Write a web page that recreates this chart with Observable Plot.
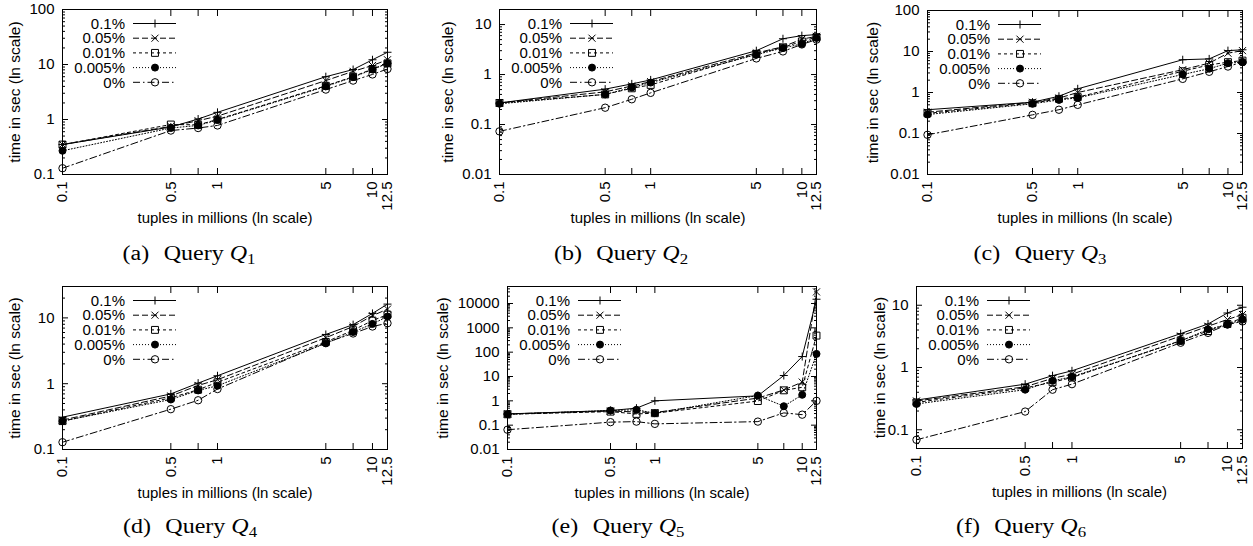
<!DOCTYPE html>
<html><head><meta charset="utf-8">
<script src="https://cdn.jsdelivr.net/npm/d3@7"></script>
<script src="https://cdn.jsdelivr.net/npm/@observablehq/plot@0.6"></script>
<style>
body{margin:0;background:#fff;}
#root{position:relative;width:1253px;height:546px;overflow:hidden;background:#fff;}
.panel{position:absolute;}
.panel svg{overflow:visible;}
.cap{position:absolute;transform:translate(-50%,-50%) scaleX(1.2);font-family:"Liberation Serif","Times New Roman",serif;font-size:20px;white-space:nowrap;color:#000;line-height:1;}
.cap i{font-style:italic;}
.cap sub{font-size:70%;vertical-align:-0.3em;line-height:0;}
</style></head><body><div id="root"></div>
<script>
// ---- data ----
const sizes = [0.1, 0.5, 0.75, 1, 5, 7.5, 10, 12.5];
const xTickLabels = ["0.1", "0.5", "0.75", "1", "5", "7.5", "10", "12.5"];
const seriesNames = ["0.1%", "0.05%", "0.01%", "0.005%", "0%"];

const q1 = [
  [0.35, 0.73, 1.02, 1.35, 6.0, 8.1, 12.2, 16.7],
  [0.35, 0.75, 0.95, 1.15, 5.1, 7.5, 9.6, 12.2],
  [0.35, 0.81, 0.80, 1.0, 4.1, 6.0, 8.3, 10.5],
  [0.27, 0.70, 0.78, 0.98, 4.0, 5.9, 8.1, 10.5],
  [0.13, 0.63, 0.70, 0.78, 3.5, 5.1, 6.6, 8.3]
];
const q2 = [
  [0.27, 0.51, 0.65, 0.78, 3.0, 5.2, 6.0, 6.3],
  [0.27, 0.45, 0.59, 0.72, 2.7, 3.6, 5.1, 5.8],
  [0.27, 0.40, 0.53, 0.62, 2.6, 3.5, 4.6, 5.6],
  [0.26, 0.40, 0.55, 0.69, 2.5, 3.4, 4.1, 5.4],
  [0.073, 0.217, 0.32, 0.43, 2.1, 2.9, 4.0, 5.0]
];
const q3 = [
  [0.38, 0.58, 0.81, 1.23, 6.3, 6.6, 10.5, 11],
  [0.33, 0.58, 0.73, 1.0, 3.6, 5.2, 9.1, 10.5],
  [0.31, 0.55, 0.70, 0.77, 3.3, 4.7, 5.5, 6.0],
  [0.29, 0.53, 0.66, 0.74, 2.75, 3.8, 5.2, 5.5],
  [0.093, 0.285, 0.38, 0.50, 2.15, 3.2, 4.3, 5.5]
];
const q4 = [
  [0.31, 0.70, 1.02, 1.32, 5.6, 7.9, 11.7, 16.2],
  [0.28, 0.65, 0.94, 1.15, 5.0, 7.4, 10.8, 13.6],
  [0.27, 0.61, 0.81, 1.05, 4.3, 6.5, 9.1, 11.2],
  [0.27, 0.575, 0.79, 0.93, 4.1, 6.1, 8.1, 10.5],
  [0.129, 0.41, 0.56, 0.83, 4.2, 5.8, 7.4, 8.3]
];
const q5 = [
  [0.29, 0.40, 0.50, 1.0, 1.6, 11, 66, 15000],
  [0.29, 0.38, 0.35, 0.33, 1.3, 2.8, 5.9, 30000],
  [0.28, 0.36, 0.29, 0.31, 0.98, 2.7, 3.6, 480],
  [0.28, 0.40, 0.43, 0.31, 1.66, 0.60, 1.77, 85],
  [0.065, 0.133, 0.14, 0.113, 0.14, 0.32, 0.27, 1.0]
];
const q6 = [
  [0.30, 0.54, 0.74, 0.885, 3.5, 5.0, 7.5, 9.3],
  [0.29, 0.49, 0.67, 0.78, 3.2, 4.6, 5.9, 7.1],
  [0.275, 0.47, 0.58, 0.69, 2.7, 3.85, 5.0, 6.3],
  [0.26, 0.44, 0.61, 0.71, 2.66, 4.1, 4.9, 5.9],
  [0.069, 0.196, 0.44, 0.54, 2.5, 3.6, 4.9, 5.5]
];

const yTicks1 = [0.1, 1, 10, 100];
const yTicks2 = [0.01, 0.1, 1, 10];
const yTicks3 = [0.01, 0.1, 1, 10, 100];
const yTicks4 = [0.1, 1, 10];
const yTicks5 = [0.01, 0.1, 1, 10, 100, 1000, 10000];
const yTicks6 = [0.1, 1, 10];

const captionLetters = ["a", "b", "c", "d", "e", "f"];
const queryNumbers = ["1", "2", "3", "4", "5", "6"];
const xLabel = "tuples in millions (ln scale)";
const yLabel = "time in sec (ln scale)";

// ---- styles / layout ----
const FONT = '"Liberation Sans", Arial, Helvetica, sans-serif';
const styles = [
  {dash: null, symbol: d3.symbolPlus, name: "plus", r: 2.7, fill: "none"},
  {dash: "6,3", symbol: d3.symbolTimes, name: "times", r: 3.3, fill: "none"},
  {dash: "3,3", symbol: d3.symbolSquare, name: "square", r: 3.9, fill: "none"},
  {dash: "1,2", symbol: d3.symbolCircle, name: "circle", r: 3.5, fill: "black"},
  {dash: "7,3,1.5,3", symbol: d3.symbolCircle, name: "circle", r: 3.7, fill: "none"}
];

const panels = [
  {data: q1, yDomain: [0.1, 100], yTicks: yTicks1, left: 0, top: 0, width: 415, height: 240, ml: 62, mr: 28, mt: 9, mb: 66, ylabDx: -47, cx: 189, cy: 253},
  {data: q2, yDomain: [0.01, 20], yTicks: yTicks2, left: 415, top: 0, width: 418, height: 240, ml: 84, mr: 17, mt: 9, mb: 66, ylabDx: -51, cx: 621, cy: 253},
  {data: q3, yDomain: [0.01, 100], yTicks: yTicks3, left: 833, top: 0, width: 420, height: 240, ml: 94, mr: 11, mt: 10, mb: 66, ylabDx: -54, cx: 1040, cy: 253},
  {data: q4, yDomain: [0.1, 30], yTicks: yTicks4, left: 0, top: 273, width: 415, height: 240, ml: 62, mr: 28, mt: 13, mb: 64, ylabDx: -47, cx: 190, cy: 526},
  {data: q5, yDomain: [0.01, 50000], yTicks: yTicks5, left: 415, top: 273, width: 418, height: 240, ml: 92, mr: 17, mt: 13, mb: 64, ylabDx: -64, cx: 618, cy: 526},
  {data: q6, yDomain: [0.05, 20], yTicks: yTicks6, left: 833, top: 273, width: 420, height: 240, ml: 83, mr: 11, mt: 13, mb: 65, ylabDx: -36, cx: 1021, cy: 526}
];

const root = document.getElementById("root");

function minorTicks(domain) {
  const out = [];
  for (let e = -3; e <= 5; e++) for (let k = 2; k <= 9; k++) {
    const v = +(k * Math.pow(10, e)).toPrecision(3);
    if (v > domain[0] && v < domain[1]) out.push(v);
  }
  return out;
}

panels.forEach((p, pi) => {
  const rows = [];
  p.data.forEach((vals, s) => vals.forEach((v, i) => rows.push({x: sizes[i], y: v, s})));
  const minor = minorTicks(p.yDomain);
  const marks = [
    Plot.axisY({anchor: "left", ticks: p.yTicks, tickSize: -6, fill: "none", label: null}),
    Plot.axisY({anchor: "right", ticks: p.yTicks, tickSize: -6, fill: "none", label: null}),
    Plot.axisY({anchor: "left", ticks: minor, tickSize: -3, fill: "none", label: null}),
    Plot.axisY({anchor: "right", ticks: minor, tickSize: -3, fill: "none", label: null}),
    Plot.axisX({anchor: "bottom", ticks: sizes, tickSize: -6, fill: "none", label: null}),
    Plot.axisX({anchor: "top", ticks: sizes, tickSize: -6, fill: "none", label: null}),
    Plot.axisX({anchor: "bottom", ticks: sizes, tickSize: 0, tickPadding: 7, tickRotate: -90,
      tickFormat: (d) => xTickLabels[sizes.indexOf(d)], label: null}),
    Plot.axisY({anchor: "left", ticks: p.yTicks, tickSize: 0, tickPadding: 8, tickFormat: (d) => String(d), label: null}),
    Plot.text([yLabel], {frameAnchor: "left", dx: p.ylabDx, rotate: -90, textAnchor: "middle", lineAnchor: "middle", fontSize: 15.5, text: (d) => d}),
    Plot.text([xLabel], {frameAnchor: "bottom", dy: 44, textAnchor: "middle", lineAnchor: "middle", text: (d) => d}),
  ];
  styles.forEach((st, s) => {
    const sub = rows.filter((d) => d.s === s);
    marks.push(Plot.line(sub, {x: "x", y: "y", stroke: "black", strokeWidth: 1, strokeDasharray: st.dash}));
  });
  styles.forEach((st, s) => {
    const sub = rows.filter((d) => d.s === s);
    marks.push(Plot.dot(sub, {x: "x", y: "y", symbol: st.name, r: st.r, stroke: "black", strokeWidth: 1, fill: st.fill}));
  });
  marks.push(Plot.frame({stroke: "black", strokeWidth: 1}));

  const chart = Plot.plot({
    width: p.width, height: p.height,
    marginLeft: p.ml, marginRight: p.mr, marginTop: p.mt, marginBottom: p.mb,
    x: {type: "log", domain: [0.1, 12.5]},
    y: {type: "log", domain: p.yDomain},
    style: {fontFamily: FONT, fontSize: "15px", color: "black", background: "white", overflow: "visible"},
    marks
  });

  // legend (inside top-left of the frame)
  const svg = d3.select(chart);
  const g = svg.append("g").attr("font-family", FONT).attr("font-size", 15);
  seriesNames.forEach((name, s) => {
    const st = styles[s];
    const y = p.mt + 14.5 + s * 14.7;
    g.append("text").attr("x", p.ml + 63).attr("y", y).attr("dy", "0.35em")
      .attr("text-anchor", "end").attr("fill", "black").text(name);
    g.append("line").attr("x1", p.ml + 71).attr("x2", p.ml + 114).attr("y1", y).attr("y2", y)
      .attr("stroke", "black").attr("stroke-width", 1).attr("stroke-dasharray", st.dash);
    g.append("path").attr("transform", `translate(${p.ml + 93},${y})`)
      .attr("d", d3.symbol(st.symbol, Math.PI * st.r * st.r)())
      .attr("stroke", "black").attr("fill", st.fill).attr("stroke-width", 1);
  });

  const div = document.createElement("div");
  div.className = "panel";
  div.style.left = p.left + "px";
  div.style.top = p.top + "px";
  div.appendChild(chart);
  root.appendChild(div);

  const cap = document.createElement("div");
  cap.className = "cap";
  cap.style.left = p.cx + "px";
  cap.style.top = p.cy + "px";
  cap.innerHTML = `(${captionLetters[pi]})<span style="display:inline-block;width:12px"></span>Query <i>Q</i><sub>${queryNumbers[pi]}</sub>`;
  root.appendChild(cap);
});
</script>
</body></html>
